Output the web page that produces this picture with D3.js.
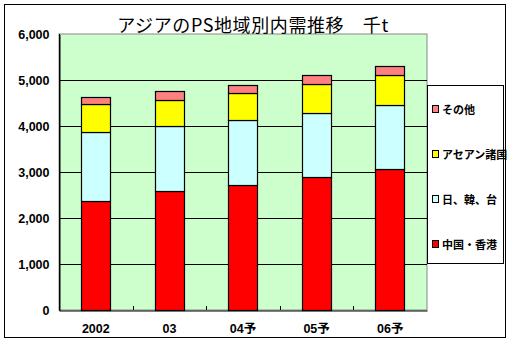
<!DOCTYPE html>
<html>
<head>
<meta charset="utf-8">
<script src="https://cdn.jsdelivr.net/npm/d3@7"></script>
<style>
  html, body { margin: 0; padding: 0; background: #fff; }
  svg { display: block; }
</style>
</head>
<body>
<svg id="chart" width="512" height="342"></svg>
<script>
// Asian PS domestic demand by region, thousand tonnes
const years = ["2002", "03", "04予", "05予", "06予"];
const seriesNames = ["中国・香港", "日、韓、台", "アセアン諸国", "その他"];
const seriesColors = ["#FF0000", "#CCFFFF", "#FFFF00", "#FF8080"];
const chinaHK = [2360, 2580, 2710, 2885, 3070];
const japanKoreaTaiwan = [1515, 1415, 1415, 1390, 1380];
const asean = [595, 580, 600, 630, 650];
const others = [150, 180, 160, 195, 195];
const yTicks = [0, 1000, 2000, 3000, 4000, 5000, 6000];

const svg = d3.select("#chart");
const plot = { left: 59, right: 427, top: 34, bottom: 310 };

// Outer frame
svg.append("rect").attr("x", 4.5).attr("y", 4.5).attr("width", 501).attr("height", 333)
  .attr("fill", "#fff").attr("stroke", "#000").attr("stroke-width", 1);

const x = d3.scaleBand().domain(years).range([plot.left, plot.right]).paddingInner(0.6).paddingOuter(0.3);
const xCat = d3.scaleBand().domain(years).range([plot.left, plot.right]);
const y = d3.scaleLinear().domain([0, 6000]).range([plot.bottom, plot.top]);

// Plot background
svg.append("rect").attr("x", plot.left).attr("y", plot.top)
  .attr("width", plot.right - plot.left).attr("height", plot.bottom - plot.top)
  .attr("fill", "#CCFFCC").attr("stroke", "#888").attr("stroke-width", 1);

// Gridlines
svg.append("g").selectAll("line").data(yTicks.filter(d => d > 0 && d < 6000)).join("line")
  .attr("x1", plot.left).attr("x2", plot.right)
  .attr("y1", d => Math.round(y(d)) + 0.5).attr("y2", d => Math.round(y(d)) + 0.5)
  .attr("stroke", "#000").attr("stroke-width", 1);

// Y axis
const yAxis = d3.axisLeft(y).tickValues(yTicks).tickFormat(d3.format(",")).tickSize(0).tickPadding(10);
const yg = svg.append("g").attr("transform", `translate(${plot.left + 0.5},0.5)`).call(yAxis);
yg.select(".domain").attr("stroke", "#000");
yg.selectAll("text").attr("font-family", "'Liberation Sans', Arial, sans-serif")
  .attr("font-size", 12.5).attr("font-weight", "bold").attr("fill", "#000");

// Stacked data
const rows = years.map((yr, i) => ({
  year: yr, s0: chinaHK[i], s1: japanKoreaTaiwan[i], s2: asean[i], s3: others[i]
}));
const stack = d3.stack().keys(["s0", "s1", "s2", "s3"])(rows);

svg.append("g").selectAll("g").data(stack).join("g")
  .attr("fill", (d, i) => seriesColors[i])
  .selectAll("rect").data(d => d).join("rect")
  .attr("x", d => Math.round(x(d.data.year)) + 0.5)
  .attr("width", Math.round(x.bandwidth()))
  .attr("y", d => Math.round(y(d[1])) + 0.5)
  .attr("height", d => Math.round(y(d[0])) - Math.round(y(d[1])))
  .attr("stroke", "#000").attr("stroke-width", 1.2);

// X axis
const xAxis = d3.axisBottom(xCat).tickSize(0).tickPadding(14);
const xg = svg.append("g").attr("transform", `translate(0,${plot.bottom + 0.5})`).call(xAxis);
xg.select(".domain").attr("stroke", "#000");
xg.selectAll("text").attr("font-family", "'Liberation Sans', 'Noto Sans CJK JP', sans-serif")
  .attr("font-size", 12.5).attr("font-weight", "bold").attr("fill", "#000");
// category separator ticks
svg.append("g").selectAll("line").data(years.slice(1)).join("line")
  .attr("x1", d => Math.round(xCat(d)) + 0.5).attr("x2", d => Math.round(xCat(d)) + 0.5)
  .attr("y1", plot.bottom - 4).attr("y2", plot.bottom)
  .attr("stroke", "#000");
svg.append("line").attr("x1", plot.left + 0.5).attr("x2", plot.left + 0.5)
  .attr("y1", plot.top).attr("y2", plot.bottom + 0.5).attr("stroke", "#000");

// Title
svg.append("text").attr("x", 253).attr("y", 32).attr("text-anchor", "middle")
  .attr("font-family", "'Noto Sans CJK JP', sans-serif").attr("font-size", 18)
  .attr("letter-spacing", 0.6)
  .attr("fill", "#000").text("アジアのPS地域別内需推移　千t");

// Legend
svg.append("rect").attr("x", 427.5).attr("y", 85.5).attr("width", 76).attr("height", 178)
  .attr("fill", "#fff").attr("stroke", "#000");
const legendOrder = [3, 2, 1, 0];
const lg = svg.append("g").selectAll("g").data(legendOrder).join("g")
  .attr("transform", (d, i) => `translate(432,${109 + i * 45})`);
lg.append("rect").attr("x", 0.5).attr("y", -3.5).attr("width", 6).attr("height", 7)
  .attr("fill", d => seriesColors[d]).attr("stroke", "#000");
lg.append("text").attr("x", 10).attr("y", 4.5)
  .attr("font-family", "'Noto Sans CJK JP', sans-serif").attr("font-size", 11)
  .attr("font-weight", "bold").attr("fill", "#000")
  .text(d => seriesNames[d]);
</script>
</body>
</html>
